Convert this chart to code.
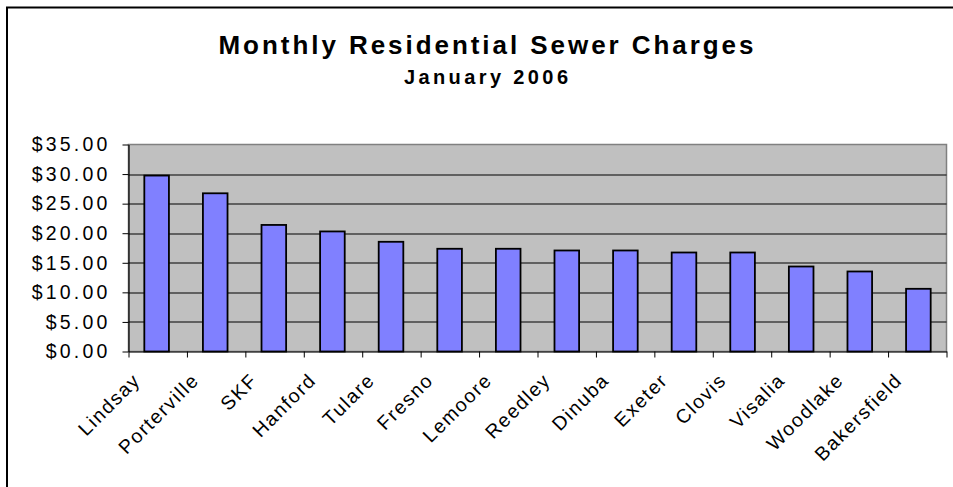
<!DOCTYPE html>
<html>
<head>
<meta charset="utf-8">
<script src="https://cdn.jsdelivr.net/npm/d3@7"></script>
<style>
	body { margin: 0; background: #fff; }
	svg { display: block; font-family: Arial, "Liberation Sans", sans-serif; }
</style>
</head>
<body>
<svg id="chart" width="953" height="487"></svg>
<script>
const cities = ["Lindsay", "Porterville", "SKF", "Hanford", "Tulare", "Fresno", "Lemoore",
	"Reedley", "Dinuba", "Exeter", "Clovis", "Visalia", "Woodlake", "Bakersfield"];
const charges = [29.75, 26.75, 21.40, 20.30, 18.55, 17.37, 17.37, 17.08, 17.08, 16.74, 16.74, 14.37, 13.53, 10.60];
const yTicks = [0, 5, 10, 15, 20, 25, 30, 35];
const titleText = "Monthly Residential Sewer Charges";
const subtitleText = "January 2006";

const d3v = window.d3,
	width = 953,
	height = 487,
	margin = { top: 144.5, right: 6.5, bottom: 135.5, left: 128.5 },
	plotW = width - margin.left - margin.right,
	plotH = height - margin.top - margin.bottom;

const svg = d3v.select("#chart");

// outer chart frame (runs off the right and bottom edges)
svg.append("rect")
	.attr("x", 7)
	.attr("y", 7.5)
	.attr("width", 980)
	.attr("height", 500)
	.attr("fill", "none")
	.attr("stroke", "#000")
	.attr("stroke-width", 2);

svg.append("text")
	.attr("x", 486)
	.attr("y", 54)
	.attr("text-anchor", "middle")
	.attr("font-size", 26)
	.attr("font-weight", "bold")
	.attr("textLength", 535)
	.attr("lengthAdjust", "spacing")
	.text(titleText);

svg.append("text")
	.attr("x", 486)
	.attr("y", 84)
	.attr("text-anchor", "middle")
	.attr("font-size", 20)
	.attr("font-weight", "bold")
	.attr("textLength", 164)
	.attr("lengthAdjust", "spacing")
	.text(subtitleText);

const g = svg.append("g")
	.attr("transform", `translate(${margin.left},${margin.top})`);

const x = d3v.scaleBand()
	.domain(cities)
	.range([0, plotW])
	.paddingInner(0.58)
	.paddingOuter(0.27);

const xEdge = d3v.scaleLinear()
	.domain([0, cities.length])
	.range([0, plotW]);

const y = d3v.scaleLinear()
	.domain([0, 35])
	.range([plotH, 0]);

// plot area
g.append("rect")
	.attr("width", plotW)
	.attr("height", plotH)
	.attr("fill", "#c0c0c0")
	.attr("stroke", "#808080")
	.attr("stroke-width", 1.5);

// gridlines
g.append("g")
	.selectAll("line")
	.data(yTicks.filter(t => t > 0 && t < 35))
	.join("line")
	.attr("x1", 0)
	.attr("x2", plotW)
	.attr("y1", d => Math.round(y(d)) + 0.5)
	.attr("y2", d => Math.round(y(d)) + 0.5)
	.attr("stroke", "#000")
	.attr("stroke-width", 1);

// bars
g.append("g")
	.selectAll("rect")
	.data(charges)
	.join("rect")
	.attr("x", (d, i) => x(cities[i]))
	.attr("y", d => y(d))
	.attr("width", x.bandwidth())
	.attr("height", d => plotH - y(d))
	.attr("fill", "#8080ff")
	.attr("stroke", "#000")
	.attr("stroke-width", 1.8);

// y axis
const yAxis = g.append("g")
	.call(d3v.axisLeft(y)
		.tickValues(yTicks)
		.tickFormat(d3v.format("$.2f"))
		.tickSize(6)
		.tickSizeOuter(0)
		.tickPadding(12));
yAxis.select(".domain").attr("stroke", "#000").attr("stroke-width", 1.2);
yAxis.selectAll("text")
	.attr("font-size", 19.5)
	.attr("letter-spacing", 3.2)
	.attr("fill", "#000")
	.attr("font-family", "Arial, 'Liberation Sans', sans-serif");

// x axis tick marks at category edges
const xAxis = g.append("g")
	.attr("transform", `translate(0,${plotH})`)
	.call(d3v.axisBottom(xEdge)
		.tickValues(d3v.range(cities.length + 1))
		.tickFormat("")
		.tickSize(6)
		.tickSizeOuter(0));
xAxis.select(".domain").attr("stroke", "#000").attr("stroke-width", 1.2);

// rotated category labels
g.append("g")
	.attr("transform", `translate(0,${plotH})`)
	.selectAll("text")
	.data(cities)
	.join("text")
	.attr("transform", d => `translate(${x(d) + x.bandwidth() / 2 - 15},${30}) rotate(-45)`)
	.attr("text-anchor", "end")
	.attr("font-size", 19.5)
	.attr("letter-spacing", 1.6)
	.attr("fill", "#000")
	.text(d => d);
</script>
</body>
</html>
